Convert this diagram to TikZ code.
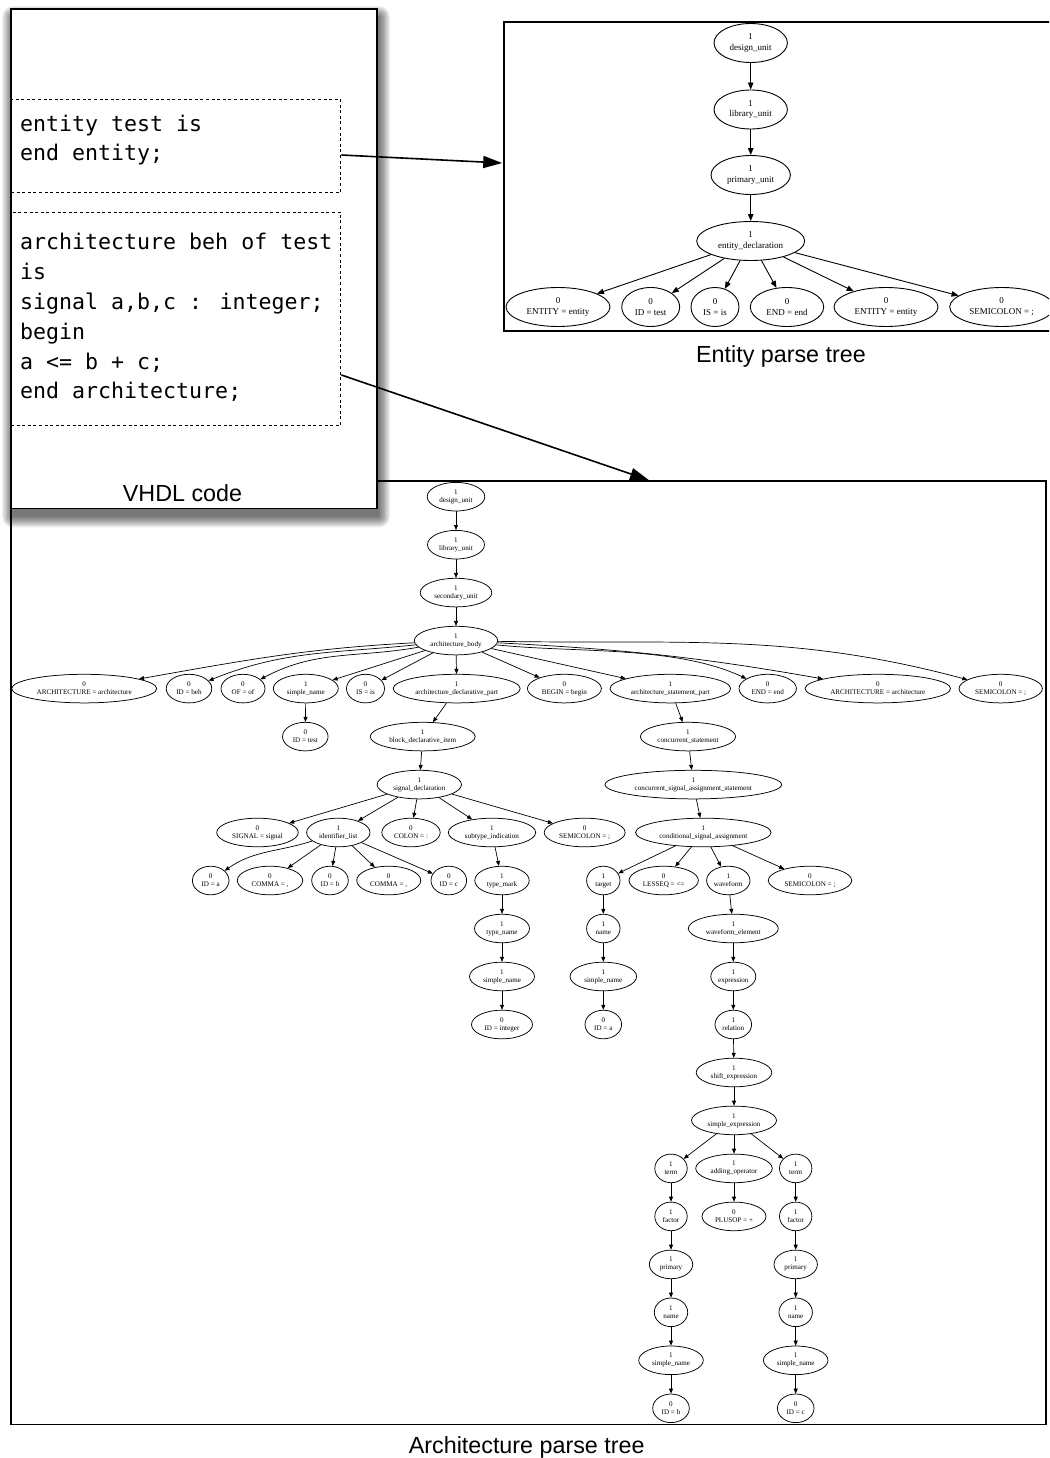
\documentclass[tikz,border=0pt]{standalone}
\usepackage{fontspec}
\setmainfont{Liberation Sans}
\newfontfamily\gvfont{Liberation Serif}
\newfontfamily\codefont{DejaVu Sans Mono}
\usetikzlibrary{shapes.geometric,arrows.meta}
\newcommand\arnodefont{\gvfont\fontsize{7.1}{8}\selectfont}
\newcommand\ennodefont{\gvfont\fontsize{9}{10.7}\selectfont}
\begin{document}
\begin{tikzpicture}[x=1pt,y=1pt,
  an/.style={ellipse,draw,line width=0.75pt,inner sep=0pt,minimum height=28.6pt,minimum width=#1pt,font=\arnodefont,align=center},
  en/.style={ellipse,draw,line width=0.9pt,inner sep=0pt,minimum height=39pt,minimum width=#1pt,font=\ennodefont,align=center},
  aedge/.style={line width=0.7pt,-{Triangle[length=5pt,width=4pt]}},
  eedge/.style={line width=0.9pt,-{Triangle[length=7pt,width=5.5pt]}},
  bigarrow/.style={line width=1.6pt,-{Triangle[length=19pt,width=12pt]}},
  frame/.style={draw,line width=1.6pt,inner sep=0pt},
  codebox/.style={draw,dash pattern=on 3pt off 2.6pt,line width=1.4pt,inner sep=0pt},
  codeline/.style={anchor=base west,inner sep=0pt,font=\codefont\fontsize{21.6}{29.7}\selectfont},
  caption/.style={anchor=base,inner sep=0pt,font=\fontsize{23.3}{28}\selectfont},
]
\useasboundingbox (0,0) rectangle (1049,-1458);
\clip (0,0) rectangle (1049,-1458);
\fill[white] (0,0) rectangle (1049,-1458);

% ---------- frames of the two parse trees ----------
\node[frame,minimum width=556pt,minimum height=309pt] (entbox) at (782,-176.5) {};
\node[frame,minimum width=1034.7pt,minimum height=943.5pt] (archbox) at (528.35,-952.75) {};

% ---------- entity parse tree ----------
\node[en=73.4] (e0) at (750.7,-43) {1\\design\_unit};
\node[en=73.4] (e1) at (750.7,-109.5) {1\\library\_unit};
\node[en=79.4] (e2) at (750.7,-175) {1\\primary\_unit};
\node[en=108] (e3) at (750.7,-241) {1\\entity\_declaration};
\node[en=104] (e4) at (558,-307) {0\\ENTITY = entity};
\node[en=58] (e5) at (650.7,-307) {0\\ID = test};
\node[en=48] (e6) at (715,-307) {0\\IS = is};
\node[en=73.4] (e7) at (787,-307) {0\\END = end};
\node[en=104] (e8) at (886,-307) {0\\ENTITY = entity};
\node[en=104] (e9) at (1001.7,-307) {0\\SEMICOLON = ;};
\draw[eedge] (e0) -- (e1);
\draw[eedge] (e1) -- (e2);
\draw[eedge] (e2) -- (e3);
\foreach \t in {e4,e5,e6,e7,e8,e9} \draw[eedge] (e3) -- (\t);

% ---------- architecture parse tree ----------
\node[an=57.6] (a0) at (456,-496.7) {1\\design\_unit};
\node[an=57] (a1) at (456,-544.7) {1\\library\_unit};
\node[an=71.6] (a2) at (456,-592.6) {1\\secondary\_unit};
\node[an=83.4] (a3) at (456,-640.6) {1\\architecture\_body};

\node[an=145] (b1) at (84.2,-688.6) {0\\ARCHITECTURE = architecture};
\node[an=45.6] (b2) at (189,-688.6) {0\\ID = beh};
\node[an=44] (b3) at (243,-688.6) {0\\OF = of};
\node[an=65] (b4) at (305.8,-688.6) {1\\simple\_name};
\node[an=38] (b5) at (365.5,-688.6) {0\\IS = is};
\node[an=127] (b6) at (456.7,-688.6) {1\\architecture\_declarative\_part};
\node[an=74] (b7) at (564.4,-688.6) {0\\BEGIN = begin};
\node[an=120.6] (b8) at (670.3,-688.6) {1\\architecture\_statement\_part};
\node[an=57.4] (b9) at (767.7,-688.6) {0\\END = end};
\node[an=145.6] (b10) at (877.8,-688.6) {0\\ARCHITECTURE = architecture};
\node[an=83.4] (b11) at (1000.7,-688.6) {0\\SEMICOLON = ;};

\node[an=45.6] (c1) at (305.3,-736.6) {0\\ID = test};
\node[an=105] (c2) at (422.7,-736.6) {1\\block\_declarative\_item};
\node[an=95.2] (c3) at (688,-736.6) {1\\concurrent\_statement};

\node[an=84.4] (d1) at (419.3,-784.6) {1\\signal\_declaration};
\node[an=176.6] (d2) at (693.3,-784.6) {1\\concurrent\_signal\_assignment\_statement};

\node[an=81.6] (f1) at (257.5,-832.5) {0\\SIGNAL = signal};
\node[an=63.4] (f2) at (338.3,-832.5) {1\\identifier\_list};
\node[an=58.4] (f3) at (411,-832.5) {0\\COLON = :};
\node[an=87.4] (f4) at (492,-832.5) {1\\subtype\_indication};
\node[an=81] (f5) at (584.7,-832.5) {0\\SEMICOLON = ;};
\node[an=135.6] (f6) at (703.3,-832.5) {1\\conditional\_signal\_assignment};

\node[an=36.6] (g1) at (210.7,-880.5) {0\\ID = a};
\node[an=65.4] (g2) at (270,-880.5) {0\\COMMA = ,};
\node[an=36.6] (g3) at (330,-880.5) {0\\ID = b};
\node[an=64] (g4) at (388.7,-880.5) {0\\COMMA = ,};
\node[an=35.6] (g5) at (448.8,-880.5) {0\\ID = c};
\node[an=54.4] (g6) at (502,-880.5) {1\\type\_mark};
\node[an=33.4] (g7) at (603.3,-880.5) {1\\target};
\node[an=69.4] (g8) at (663.7,-880.5) {0\\LESSEQ = <=};
\node[an=43.4] (g9) at (728.3,-880.5) {1\\waveform};
\node[an=83.4] (g10) at (810,-880.5) {0\\SEMICOLON = ;};

\node[an=55] (h1) at (502,-928.5) {1\\type\_name};
\node[an=33.4] (h2) at (603.3,-928.5) {1\\name};
\node[an=90] (h3) at (733.3,-928.5) {1\\waveform\_element};

\node[an=65] (i1) at (502,-976.5) {1\\simple\_name};
\node[an=66.6] (i2) at (603.3,-976.5) {1\\simple\_name};
\node[an=45] (i3) at (733.3,-976.5) {1\\expression};

\node[an=61] (j1) at (502,-1024.5) {0\\ID = integer};
\node[an=36.6] (j2) at (603.3,-1024.5) {0\\ID = a};
\node[an=36.6] (j3) at (733.3,-1024.5) {1\\relation};

\node[an=75.6] (k1) at (734,-1072.5) {1\\shift\_expression};
\node[an=85] (k2) at (734,-1120.4) {1\\simple\_expression};

\node[an=32.4] (m1) at (671,-1168.4) {1\\term};
\node[an=76.6] (m2) at (734,-1168.4) {1\\adding\_operator};
\node[an=32.4] (m3) at (795.7,-1168.4) {1\\term};

\node[an=32.4] (n1) at (671,-1216.4) {1\\factor};
\node[an=64] (n2) at (734,-1216.4) {0\\PLUSOP = +};
\node[an=32.4] (n3) at (795.7,-1216.4) {1\\factor};

\node[an=43.4] (o1) at (671,-1264.4) {1\\primary};
\node[an=43.4] (o3) at (795.7,-1264.4) {1\\primary};
\node[an=33.4] (p1) at (671,-1312.3) {1\\name};
\node[an=33.4] (p3) at (795.7,-1312.3) {1\\name};
\node[an=64.6] (q1) at (671,-1360.3) {1\\simple\_name};
\node[an=64.6] (q3) at (795.7,-1360.3) {1\\simple\_name};
\node[an=36.6] (s1) at (671,-1408.3) {0\\ID = b};
\node[an=36.6] (s3) at (795.7,-1408.3) {0\\ID = c};

% edges of the architecture tree
\draw[aedge] (a0) -- (a1);
\draw[aedge] (a1) -- (a2);
\draw[aedge] (a2) -- (a3);
\draw[aedge] (a3) to[out=183,in=10] (b1);
\draw[aedge] (a3) to[out=186,in=22] (b2);
\draw[aedge] (a3) to[out=190,in=28] (b3);
\draw[aedge] (a3) -- (b4);
\draw[aedge] (a3) -- (b5);
\draw[aedge] (a3) -- (b6);
\draw[aedge] (a3) -- (b7);
\draw[aedge] (a3) -- (b8);
\draw[aedge] (a3) to[out=-6,in=155,looseness=0.8] (b9);
\draw[aedge] (a3) to[out=-3,in=170] (b10);
\draw[aedge] (a3) to[out=-1,in=165] (b11);
\draw[aedge] (b4) -- (c1);
\draw[aedge] (b6) -- (c2);
\draw[aedge] (b8) -- (c3);
\draw[aedge] (c2) -- (d1);
\draw[aedge] (c3) -- (d2);
\foreach \t in {f1,f2,f3,f4,f5} \draw[aedge] (d1) -- (\t);
\draw[aedge] (d2) -- (f6);
\draw[aedge] (f2) to[out=198,in=35] (g1);
\foreach \t in {g2,g3,g4,g5} \draw[aedge] (f2) -- (\t);
\draw[aedge] (f4) -- (g6);
\foreach \t in {g7,g8,g9,g10} \draw[aedge] (f6) -- (\t);
\draw[aedge] (g6) -- (h1);
\draw[aedge] (h1) -- (i1);
\draw[aedge] (i1) -- (j1);
\draw[aedge] (g7) -- (h2);
\draw[aedge] (h2) -- (i2);
\draw[aedge] (i2) -- (j2);
\draw[aedge] (g9) -- (h3);
\draw[aedge] (h3) -- (i3);
\draw[aedge] (i3) -- (j3);
\draw[aedge] (j3) -- (k1);
\draw[aedge] (k1) -- (k2);
\foreach \t in {m1,m2,m3} \draw[aedge] (k2) -- (\t);
\draw[aedge] (m1) -- (n1);
\draw[aedge] (n1) -- (o1);
\draw[aedge] (o1) -- (p1);
\draw[aedge] (p1) -- (q1);
\draw[aedge] (q1) -- (s1);
\draw[aedge] (m2) -- (n2);
\draw[aedge] (m3) -- (n3);
\draw[aedge] (n3) -- (o3);
\draw[aedge] (o3) -- (p3);
\draw[aedge] (p3) -- (q3);
\draw[aedge] (q3) -- (s3);

% ---------- VHDL source panel with its soft drop shadow ----------
\foreach \r in {0,1.2,...,10.8}
  \fill[black,opacity=0.07,rounded corners=\r pt]
    (13-\r,-17+\r) rectangle (379+\r,-516.5-\r);
\node[frame,line width=1.5pt,fill=white,minimum width=366pt,minimum height=499.5pt]
  (vhdl) at (194,-258.75) {};
\node[codebox,minimum width=329.7pt,minimum height=93pt] (ecode) at (175.85,-145.8) {};
\node[codebox,minimum width=329.7pt,minimum height=213.4pt] (acode) at (175.85,-319) {};

\node[codeline] (cl1) at (20,-131.7) {entity test is};
\node[codeline] (cl2) at (20,-161) {end entity;};
\node[codeline] (cl3) at (20,-249.3) {architecture beh of test};
\node[codeline] (cl4) at (20,-279.3) {is};
\node[codeline] (cl5) at (20,-309.5) {signal a,b,c : integer;};
\node[codeline] (cl6) at (20,-339) {begin};
\node[codeline] (cl7) at (20,-369) {a <= b + c;};
\node[codeline] (cl8) at (20,-398.5) {end architecture;};

% ---------- links from source to trees ----------
\draw[bigarrow] ([yshift=-9.2pt]ecode.east) -- ([yshift=13.5pt,xshift=-1pt]entbox.west);
\draw[bigarrow] ([yshift=-56pt]acode.east) -- ([xshift=120.7pt]archbox.north);

% ---------- captions ----------
\node[caption] (vcap) at (182.5,-501) {VHDL code};
\node[caption] (ecap) at (781,-362) {Entity parse tree};
\node[caption] (acap) at (526.7,-1453.3) {Architecture parse tree};
\end{tikzpicture}
\end{document}
